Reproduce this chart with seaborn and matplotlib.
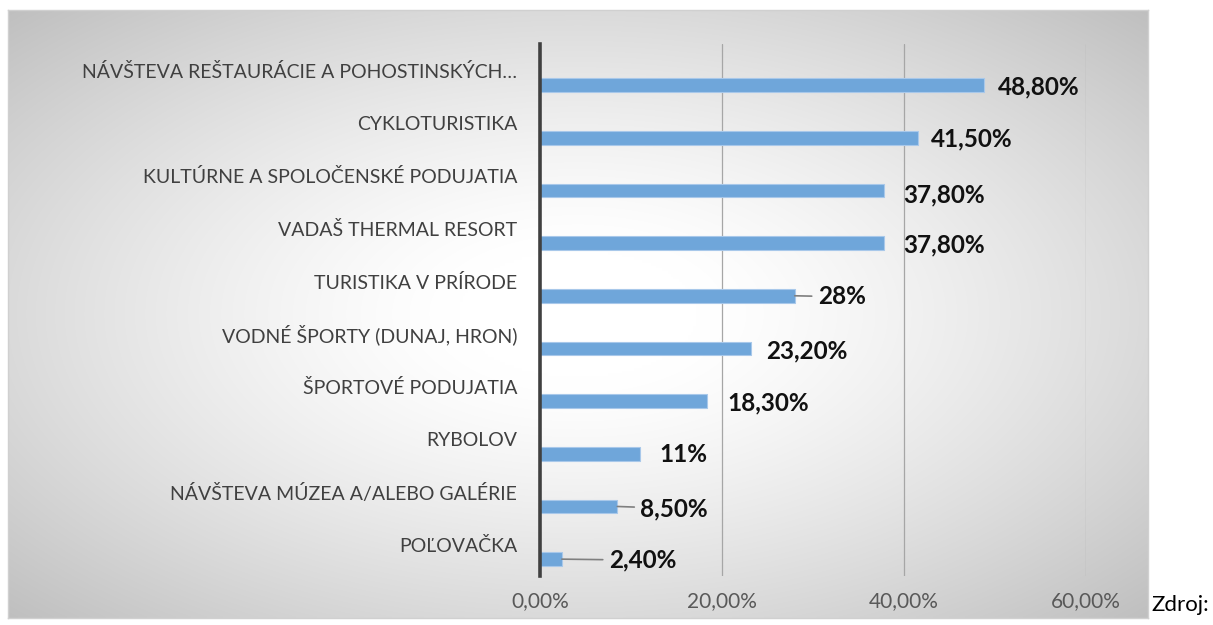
import numpy as np
import pandas as pd
import matplotlib
matplotlib.use("Agg")
import matplotlib.pyplot as plt
import seaborn as sns

# data (top to bottom)
activities = [
    "NÁVŠTEVA REŠTAURÁCIE A POHOSTINSKÝCH…",
    "CYKLOTURISTIKA",
    "KULTÚRNE A SPOLOČENSKÉ PODUJATIA",
    "VADAŠ THERMAL RESORT",
    "TURISTIKA V PRÍRODE",
    "VODNÉ ŠPORTY (DUNAJ, HRON)",
    "ŠPORTOVÉ PODUJATIA",
    "RYBOLOV",
    "NÁVŠTEVA MÚZEA A/ALEBO GALÉRIE",
    "POĽOVAČKA",
]
shares = [0.488, 0.415, 0.378, 0.378, 0.28, 0.232, 0.183, 0.11, 0.085, 0.024]
value_labels = ["48,80%", "41,50%", "37,80%", "37,80%", "28%",
                "23,20%", "18,30%", "11%", "8,50%", "2,40%"]
x_ticks = [0.0, 0.2, 0.4, 0.6]
x_tick_labels = ["0,00%", "20,00%", "40,00%", "60,00%"]

# label placement in pixels from bar end, and which labels get a leader line
label_dx = [14, 13, 19, 19, 23, 15, 21, 19, 23, 47]
label_dy = [-2, -1, -4, -2, -1, -2, -2, -1, -2, -1]
leader = [False, False, False, False, True, False, False, False, True, True]

df = pd.DataFrame({"activity": activities, "share": shares})

sns.set_theme(style="white")
plt.rcParams["font.family"] = ["Lato", "DejaVu Sans"]

W, H = 1213, 625
fig = plt.figure(figsize=(W / 100, H / 100), dpi=100)
fig.patch.set_facecolor("white")

# chart frame with radial gradient
bg = fig.add_axes([8 / W, 1 - 618 / H, 1140 / W, 608 / H], zorder=0)
gx, gy = np.meshgrid(np.linspace(-1, 1, 400), np.linspace(-1, 1, 220))
r = np.sqrt(gx ** 2 + gy ** 2) / np.sqrt(2)
r = np.clip((r - 0.15) / 0.85, 0, 1)
shade = 1.0 - 0.25 * r ** 1.3
bg.imshow(np.dstack([shade, shade, shade]), aspect="auto", interpolation="bilinear",
          extent=[0, 1, 0, 1])
bg.set_xticks([])
bg.set_yticks([])
for s in bg.spines.values():
    s.set_color("#d0d0d0")
    s.set_linewidth(1)

ax = fig.add_axes([540 / W, 1 - 576 / H, 546 / W, 532 / H], zorder=1)
ax.patch.set_alpha(0)

sns.barplot(data=df, x="share", y="activity", orient="h", width=0.26,
            color="#6fa6da", saturation=1, edgecolor="#a8c8ea", linewidth=0.8,
            ax=ax, zorder=3)

ax.set_xlim(0, 0.6)
ax.set_ylim(9.32, -0.78)
ax.set_xticks(x_ticks)
ax.set_xticklabels(x_tick_labels, fontsize=15, color="#595959")
ax.tick_params(axis="x", length=0, pad=11)
ax.set_yticks(np.arange(len(activities)) - 0.28)
ax.set_yticklabels(activities, fontsize=14, color="#404040")
ax.tick_params(axis="y", length=0, pad=16.5)
ax.set_xlabel("")
ax.set_ylabel("")

for x in x_ticks[1:]:
    ax.axvline(x, color="#a6a6a6", lw=0.9, zorder=1)

for side in ["top", "right", "bottom"]:
    ax.spines[side].set_visible(False)
ax.spines["left"].set_color("#404040")
ax.spines["left"].set_linewidth(2.6)
ax.spines["left"].set_zorder(5)

for i, (v, lab) in enumerate(zip(shares, value_labels)):
    props = None
    if leader[i]:
        props = dict(arrowstyle="-", color="#7f7f7f", lw=1.2, shrinkA=2, shrinkB=0)
    ax.annotate(lab, xy=(v, i), xytext=(label_dx[i] * 0.72, label_dy[i] * 0.72),
                textcoords="offset points", ha="left", va="center",
                fontsize=17.5, fontweight="bold", color="#111111",
                arrowprops=props, annotation_clip=False, zorder=6)

fig.text(1151 / W, 1 - 605 / H, "Zdroj:", fontsize=16, color="black",
         ha="left", va="center")

fig.savefig("out.png", dpi=100)
